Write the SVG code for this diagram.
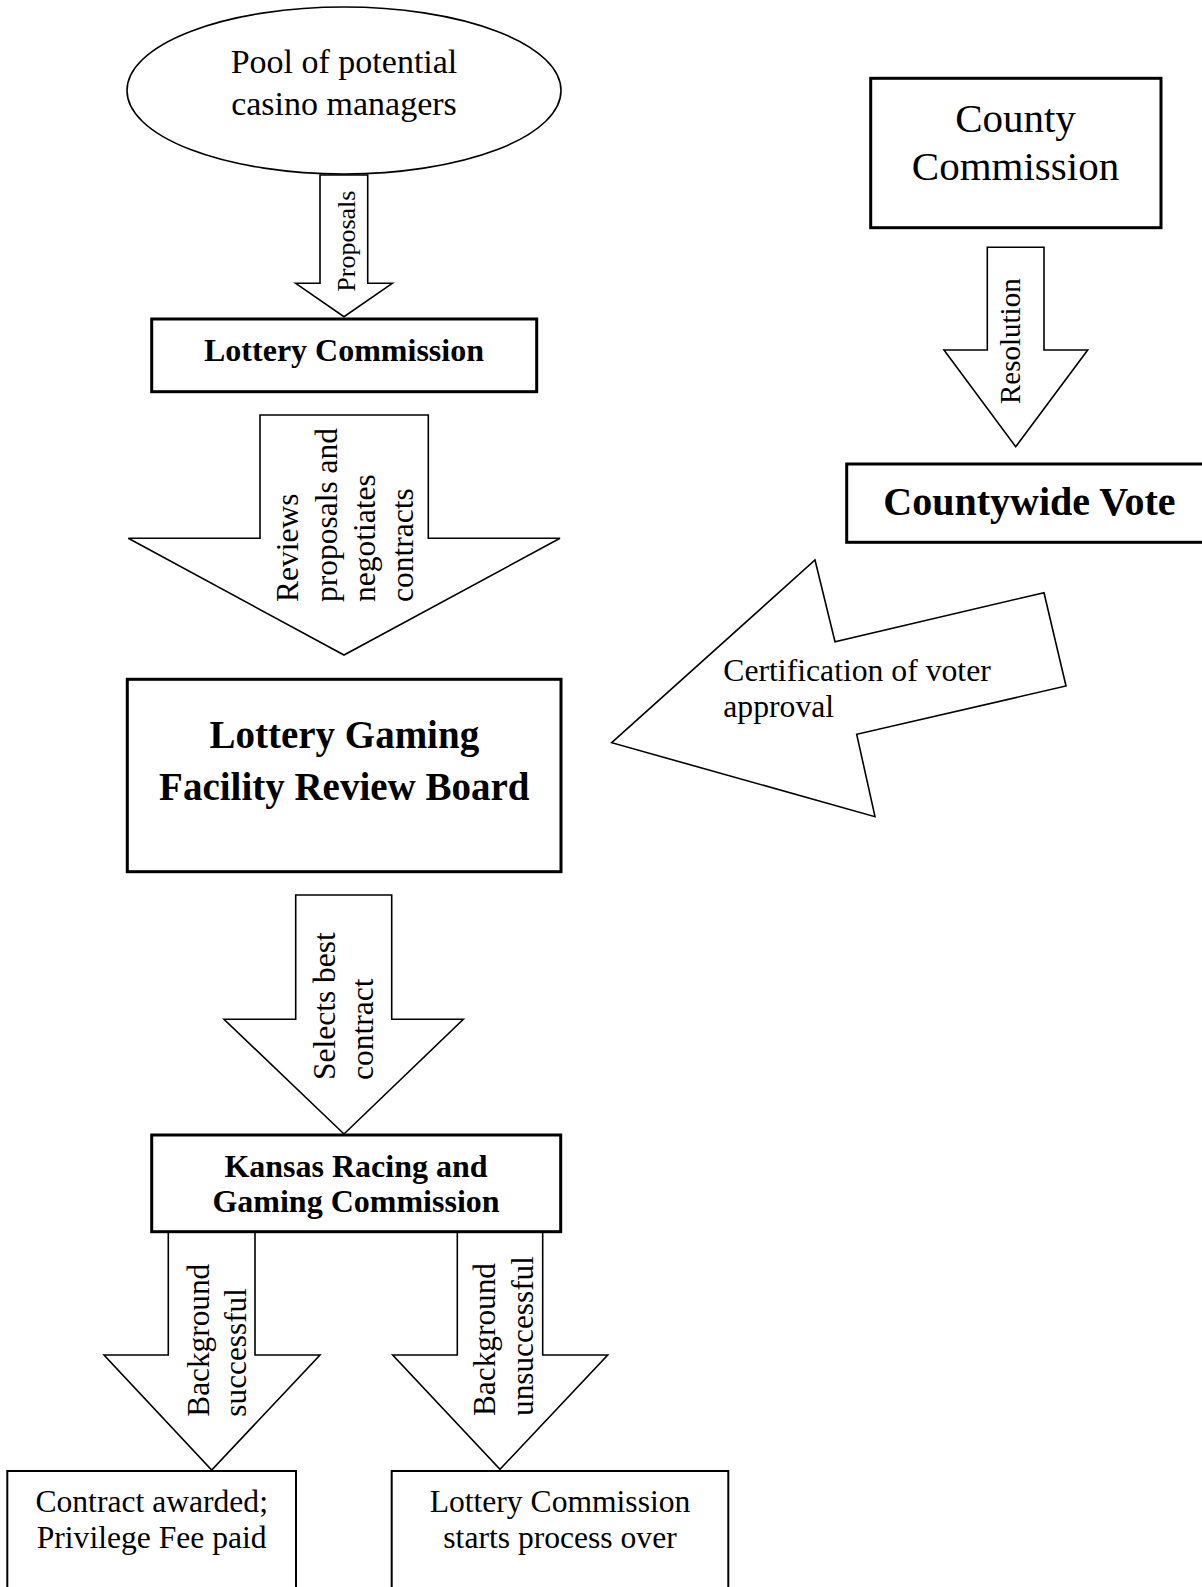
<svg xmlns="http://www.w3.org/2000/svg" width="1202" height="1587" viewBox="0 0 1202 1587">
<style>
text{font-family:"Liberation Serif","Times New Roman",serif;fill:#000}
.b{font-weight:bold}
.m{text-anchor:middle}
.thick{fill:#fff;stroke:#000;stroke-width:3}
.thin{fill:#fff;stroke:#000;stroke-width:2}
.arr{fill:#fff;stroke:#000;stroke-width:1.6;stroke-linejoin:miter}
</style>
<rect width="1202" height="1587" fill="#fff"/>
<g id="connectors">
<polygon class="arr" points="320,175 367.7,175 367.7,283.3 392.3,283.3 344,316.7 295.7,283.3 320,283.3"/>
<polygon class="arr" points="987.3,247.3 1044,247.3 1044,350 1087.7,350 1015.7,446.7 944,350 987.3,350"/>
<polygon class="arr" points="260,415 428.3,415 428.3,538.3 560,538.3 344,655 128.3,538.3 260,538.3"/>
<polygon class="arr" points="611.7,742.7 815,560 835,641.7 1044,592.7 1066,686 856.7,734.3 875,816.7"/>
<polygon class="arr" points="295.7,895 391.7,895 391.7,1019.3 463.3,1019.3 344,1134 224,1019.3 295.7,1019.3"/>
<polygon class="arr" points="168.3,1232 255,1232 255,1355 320,1355 211.7,1470 104,1355 168.3,1355"/>
<polygon class="arr" points="457.3,1232 542.7,1232 542.7,1355 607.7,1355 500,1469.3 392.7,1355 457.3,1355"/>
<text font-size="26" transform="translate(355,291.7) rotate(-90)">Proposals</text>
<text font-size="29" transform="translate(1019.5,404) rotate(-90)">Resolution</text>
<text font-size="31.5" transform="translate(298.3,602) rotate(-90)">Reviews</text>
<text font-size="31.5" transform="translate(336.7,602) rotate(-90)">proposals and</text>
<text font-size="31.5" transform="translate(375,602) rotate(-90)">negotiates</text>
<text font-size="31.5" transform="translate(413.3,602) rotate(-90)">contracts</text>
<text font-size="31.7" x="723.3" y="680.7">Certification of voter</text>
<text font-size="31.7" x="723.3" y="716.7">approval</text>
<text font-size="31.5" transform="translate(335,1080) rotate(-90)">Selects best</text>
<text font-size="31.5" transform="translate(373.3,1080) rotate(-90)">contract</text>
<text font-size="31.3" transform="translate(208.5,1416.7) rotate(-90)">Background</text>
<text font-size="31.3" transform="translate(245.5,1416.7) rotate(-90)">successful</text>
<text font-size="31.3" transform="translate(495,1416) rotate(-90)">Background</text>
<text font-size="31.3" transform="translate(532.7,1416) rotate(-90)">unsuccessful</text>
</g>
<g id="pool">
<ellipse cx="344" cy="90.5" rx="217" ry="83.5" fill="#fff" stroke="#000" stroke-width="1.6"/>
<text class="m" font-size="34" x="344" y="73">Pool of potential</text>
<text class="m" font-size="34" x="344" y="115">casino managers</text>
</g>
<g id="lottery-commission">
<rect class="thick" x="151.7" y="319" width="385" height="72.7"/>
<text class="m b" font-size="32" x="344" y="361">Lottery Commission</text>
</g>
<g id="county-commission">
<rect class="thick" x="870.7" y="78.3" width="290.3" height="149.4"/>
<text class="m" font-size="41" x="1015.5" y="131.7">County</text>
<text class="m" font-size="41" x="1015.5" y="180">Commission</text>
</g>
<g id="countywide-vote">
<rect class="thick" x="846.7" y="464" width="370" height="78.3"/>
<text class="m b" font-size="40" x="1029.5" y="515">Countywide Vote</text>
</g>
<g id="review-board">
<rect class="thick" x="127.3" y="679.3" width="433.7" height="192.4"/>
<text class="m b" font-size="39" x="344.3" y="748.3">Lottery Gaming</text>
<text class="m b" font-size="39" x="344.3" y="800">Facility Review Board</text>
</g>
<g id="krgc">
<rect class="thick" x="151.7" y="1135" width="409" height="96.7"/>
<text class="m b" font-size="32" x="356" y="1176.7">Kansas Racing and</text>
<text class="m b" font-size="32" x="356" y="1211.7">Gaming Commission</text>
</g>
<g id="contract-awarded">
<rect class="thin" x="7.3" y="1471" width="288.7" height="130"/>
<text class="m" font-size="31.6" x="151.7" y="1511.7">Contract awarded;</text>
<text class="m" font-size="31.6" x="151.7" y="1548.3">Privilege Fee paid</text>
</g>
<g id="starts-over">
<rect class="thin" x="391.7" y="1471" width="336.6" height="130"/>
<text class="m" font-size="31.6" x="560" y="1511.7">Lottery Commission</text>
<text class="m" font-size="31.6" x="560" y="1548.3">starts process over</text>
</g>
</svg>
